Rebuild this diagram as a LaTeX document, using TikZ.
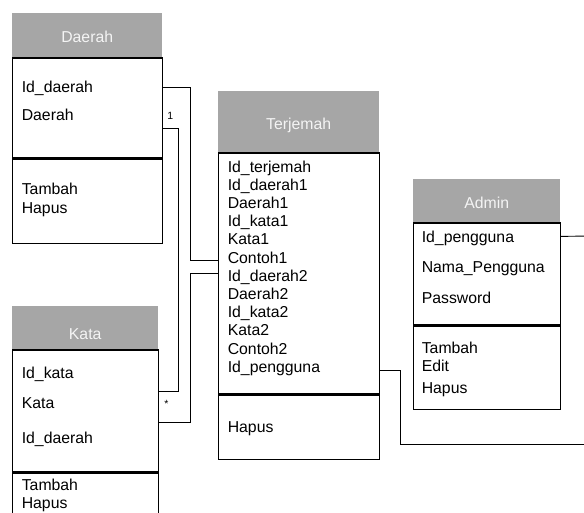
\documentclass[tikz,border=0pt]{standalone}
\usepackage{fontspec}
\setmainfont{Liberation Sans}
\usetikzlibrary{positioning}
\definecolor{headgray}{HTML}{A6A6A6}
\definecolor{headtext}{HTML}{F4F4F4}
\tikzset{x=1pt, y=-1pt, node distance=0pt, font=\fontsize{15.8}{18}\selectfont}
\tikzstyle{head} = [fill=headgray, text=headtext, rectangle, inner sep=0pt, anchor=north west, text height=15pt, text depth=0pt]
\tikzstyle{part} = [draw, line width=1.2pt, rectangle, inner sep=0pt]
\tikzstyle{attr} = [align=left, anchor=north west, inner sep=0pt]
\tikzstyle{link} = [draw, line width=0.9pt]
\tikzstyle{mult} = [font=\fontsize{10.5}{10.5}\selectfont, inner sep=0pt]

\begin{document}
\begin{tikzpicture}
    \useasboundingbox (0,0) rectangle (584,513);
    \clip (0,0) rectangle (584,513);

    % Daerah
    \node [head, minimum width=150pt, minimum height=44pt] (daerah) at (12,13) {Daerah};
    \node [part, below=0pt of daerah, minimum width=150pt, minimum height=100pt] (daerahA) {};
    \node [part, below=0pt of daerahA, minimum width=150pt, minimum height=84pt] (daerahM) {};
    \node [attr, font=\fontsize{15.8}{28}\selectfont] (daerahAt) at ([xshift=10pt,yshift=-23pt]daerahA.north west) {Id\_daerah\\Daerah};
    \node [attr, font=\fontsize{15.8}{19}\selectfont] (daerahMt) at ([xshift=10pt,yshift=-24pt]daerahM.north west) {Tambah\\Hapus};

    % Kata
    \node [head, text height=24pt, minimum width=146pt, minimum height=43pt] (kata) at (12,306) {Kata};
    \node [part, below=0pt of kata, minimum width=146pt, minimum height=122pt] (kataA) {};
    \node [part, below=0pt of kataA, minimum width=146pt, minimum height=60pt] (kataM) {};
    \node [attr, font=\fontsize{15.8}{30}\selectfont] (kataAt) at ([xshift=10pt,yshift=-17pt]kataA.north west) {Id\_kata\\Kata\\[5pt]Id\_daerah};
    \node [attr] (kataMt) at ([xshift=10pt,yshift=-6pt]kataM.north west) {Tambah\\Hapus};

    % Terjemah
    \node [head, minimum width=161pt, minimum height=61pt] (terjemah) at (218,91) {Terjemah};
    \node [part, below=0pt of terjemah, minimum width=161pt, minimum height=241pt] (terjemahA) {};
    \node [part, below=0pt of terjemahA, minimum width=161pt, minimum height=64pt] (terjemahM) {};
    \node [attr, font=\fontsize{15.8}{18.2}\selectfont] (terjemahAt) at ([xshift=10pt,yshift=-8pt]terjemahA.north west)
        {Id\_terjemah\\Id\_daerah1\\Daerah1\\Id\_kata1\\Kata1\\Contoh1\\Id\_daerah2\\Daerah2\\Id\_kata2\\Kata2\\Contoh2\\Id\_pengguna};
    \node [attr] (terjemahMt) at ([xshift=10pt,yshift=-27pt]terjemahM.north west) {Hapus};

    % Admin
    \node [head, minimum width=147pt, minimum height=43pt] (admin) at (413,179) {Admin};
    \node [part, below=0pt of admin, minimum width=147pt, minimum height=102pt] (adminA) {};
    \node [part, below=0pt of adminA, minimum width=147pt, minimum height=83pt] (adminM) {};
    \node [attr, font=\fontsize{15.8}{30.5}\selectfont] (adminAt) at ([xshift=9pt,yshift=-8pt]adminA.north west) {Id\_pengguna\\Nama\_Pengguna\\Password};
    \node [attr] (adminMt) at ([xshift=9pt,yshift=-16pt]adminM.north west) {Tambah\\Edit\\[4pt]Hapus};

    \coordinate (offA) at (590,236);
    \coordinate (offB) at (590,444);

    \draw [link] ([yshift=-30pt]daerahA.north east) -- ++(28,0) |- ([yshift=-108pt]terjemahA.north west);
    \draw [link] ([yshift=-71pt]daerahA.north east) node [mult, above right=8pt and 4pt] {1} -- ++(16,0) |- ([yshift=-42pt]kataA.north east) node [mult, below right=8pt and 5pt] {*};
    \draw [link] ([yshift=-73pt]kataA.north east) -- ++(32,0) |- ([yshift=-121pt]terjemahA.north west);
    \draw [link] ([yshift=-218pt]terjemahA.north east) -- ++(21,0) |- (offB);
    \draw [link] ([yshift=-14pt]adminA.north east) -- (offA);
\end{tikzpicture}
\end{document}
